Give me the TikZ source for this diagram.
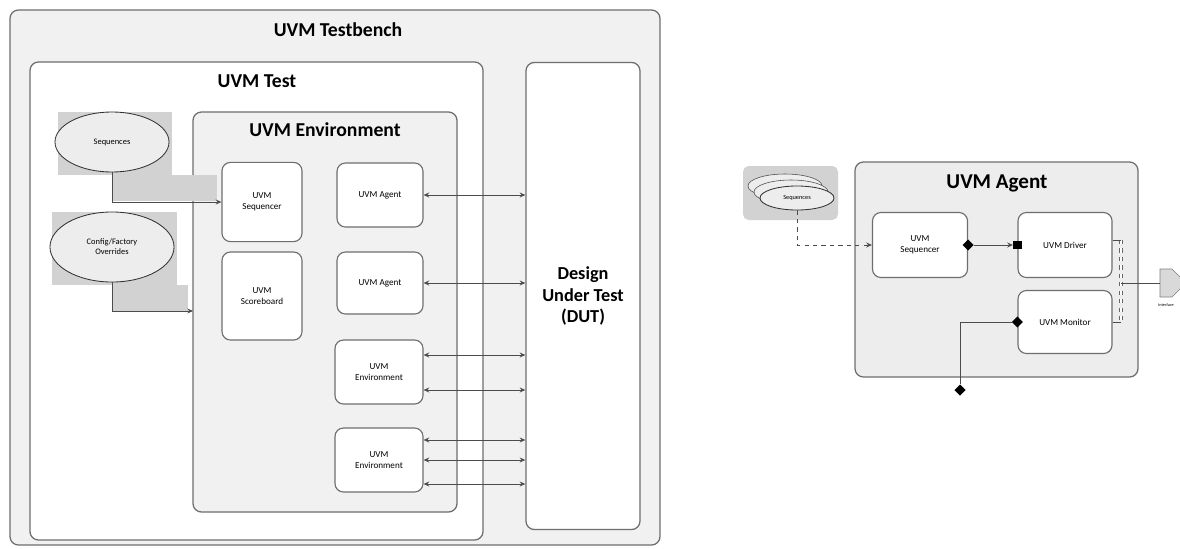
\documentclass[tikz,border=0pt]{standalone}
\usepackage{fontspec}
\setmainfont{Carlito}
\usetikzlibrary{arrows.meta, positioning, shapes.geometric, shapes.symbols}

\definecolor{panel}{HTML}{F1F1F1}
\definecolor{edge}{HTML}{6E6E6E}
\definecolor{band}{HTML}{D2D2D2}
\definecolor{bubble}{HTML}{EDEDED}

\tikzset{
  frame/.style = {draw=edge, line width=0.9pt, rounded corners=6pt},
  comp/.style = {draw=edge, fill=white, line width=0.8pt, rounded corners=6pt,
                 align=center, inner sep=1pt, font=\fontsize{6.5}{8}\selectfont},
  seqbub/.style = {ellipse, draw=black!80, fill=bubble, line width=0.6pt,
                   align=center, inner sep=0pt, font=\fontsize{6}{7}\selectfont},
  title/.style = {font=\bfseries\fontsize{14}{16}\selectfont},
  link/.style = {draw=black!70, line width=0.7pt},
  port/.style = {diamond, fill=black, inner sep=0pt, minimum size=8pt},
  sqport/.style = {rectangle, fill=black, inner sep=0pt, minimum size=6pt},
  >={Stealth[length=4pt, width=3.5pt]}
}

\begin{document}
\begin{tikzpicture}[x=0.025cm, y=-0.025cm]
  \useasboundingbox (0,0) rectangle (1180,548);

  % testbench, test and DUT
  \draw[frame, fill=panel] (10,10) rectangle (660,545);
  \node[title] (tbt) at (338,30) {UVM Testbench};
  \draw[frame, fill=white] (30,62) rectangle (483,540);
  \node[title] (tt) at (257,81) {UVM Test};
  \node[frame, fill=white, minimum width=2.85cm, minimum height=11.675cm, align=center,
        font=\bfseries\fontsize{13}{15}\selectfont] (dut) at (583,296) {Design\\Under Test\\(DUT)};

  % environment
  \draw[frame, fill=panel] (193,112) rectangle (457,512);
  \node[title] (et) at (325,130) {UVM Environment};
  \node[comp, minimum width=2cm, minimum height=1.98cm] (seqr) at (262,202) {UVM\\Sequencer};
  \node[comp, minimum width=2cm, minimum height=2.2cm] (scbd) at (262,296) {UVM\\Scoreboard};
  \node[comp, minimum width=2.15cm, minimum height=1.6cm] (ag1) at (380,195) {UVM Agent};
  \node[comp, minimum width=2.15cm, minimum height=1.55cm] (ag2) at (380,283) {UVM Agent};
  \node[comp, minimum width=2.2cm, minimum height=1.6cm] (en1) at (379,372) {UVM\\Environment};
  \node[comp, minimum width=2.2cm, minimum height=1.6cm] (en2) at (379,460) {UVM\\Environment};

  % sequences and overrides fed in from the test
  \fill[band] (58,112) rectangle (172,175);
  \fill[band] (112,175) rectangle (217,201);
  \fill[band] (52,212) rectangle (177,285);
  \fill[band] (112,285) rectangle (188,311);
  \node[seqbub, minimum width=2.85cm, minimum height=1.5cm] (seqs) at (112,142) {Sequences};
  \node[seqbub, minimum width=3.1cm, minimum height=1.75cm] (cfg) at (112,247) {Config/Factory\\Overrides};
  \coordinate (cfgin) at (193,311);
  \draw[link, ->] (seqs.south) |- (seqr.west);
  \draw[link, ->] (cfg.south) |- (cfgin);

  % pins to the DUT
  \draw[link, <->] (ag1.east) -- (ag1.east -| dut.west);
  \draw[link, <->] (ag2.east) -- (ag2.east -| dut.west);
  \foreach \y in {355,390}
    \draw[link, <->] (en1.east |- 0,\y) -- (dut.west |- 0,\y);
  \foreach \y in {440,460,484}
    \draw[link, <->] (en2.east |- 0,\y) -- (dut.west |- 0,\y);

  % agent detail
  \draw[frame, fill=black!7] (855,162) rectangle (1138,377);
  \node[font=\bfseries\fontsize{15}{17}\selectfont] (agt) at (997,183) {UVM Agent};
  \node[comp, minimum width=2.375cm, minimum height=1.625cm] (aseqr) at (920,245) {UVM\\Sequencer};
  \node[comp, minimum width=2.35cm, minimum height=1.625cm] (drv) at (1065,245) {UVM Driver};
  \node[comp, minimum width=2.35cm, minimum height=1.575cm] (mon) at (1065,322) {UVM Monitor};

  \fill[band, rounded corners=4pt] (743,166) rectangle (838,220);
  \foreach \d in {12,6}
    \draw[draw=black!70, fill=bubble] (797-\d,198-\d) ellipse [x radius=37, y radius=12];
  \node[seqbub, minimum width=1.85cm, minimum height=0.6cm, font=\fontsize{4.5}{5}\selectfont] (sq) at (797,198) {Sequences};
  \draw[link, dashed, ->] (sq.south) |- (aseqr.west);

  \node[port] (sp) at (aseqr.east) {};
  \node[sqport] (dp) at (drv.west) {};
  \draw[link, ->] (sp) -- (dp);
  \node[port] (mp) at (mon.west) {};
  \node[port] (ap) at (960,390) {};
  \draw[link] (mp) -| (ap);

  % interface bus
  \coordinate (bt) at (1121,240);
  \coordinate (bb) at (1121,322);
  \coordinate (bm) at (1121,283);
  \draw[draw=black!60, line width=0.5pt, dashed, double, double distance=2pt] (bt) -- (bb);
  \draw[link] (drv.east |- bt) -- (bt);
  \draw[link] (mon.east) -- (bb);
  \node[signal, signal to=east, draw=gray, fill=gray!30, minimum width=0.65cm, minimum height=0.7cm] (ifc) at (1166,283) {};
  \draw[link] (bm) -- (ifc.west);
  \node[font=\fontsize{3}{4}\selectfont, below=1pt of ifc] (ifl) {Interface};
\end{tikzpicture}
\end{document}
